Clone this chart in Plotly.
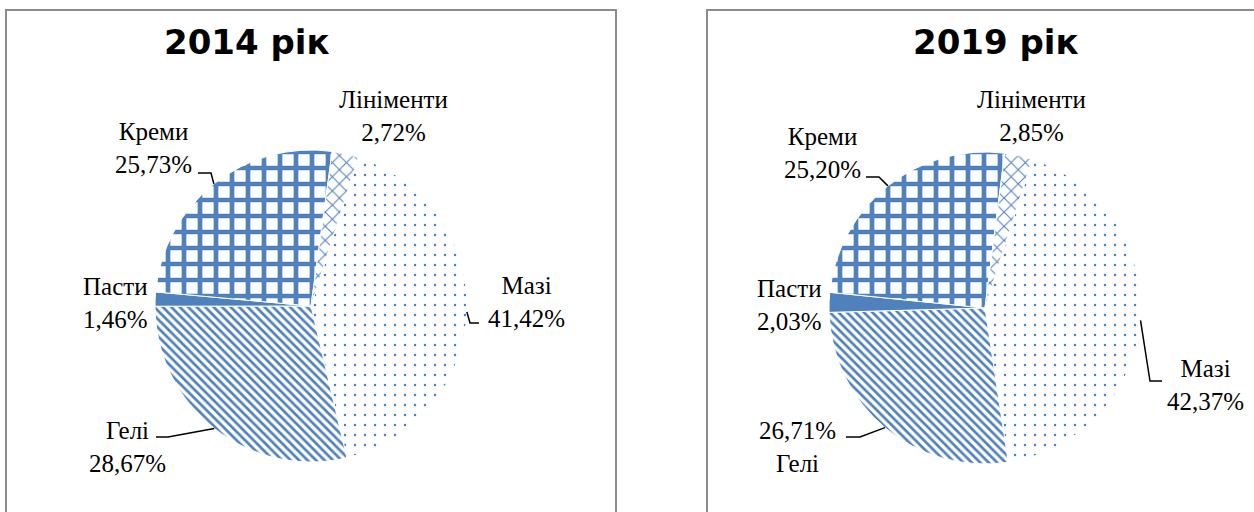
import math
import plotly.graph_objects as go

# ---------------- data ----------------
categories = ["Мазі", "Гелі", "Пасти", "Креми", "Лініменти"]
values_2014 = [41.42, 28.67, 1.46, 25.73, 2.72]
values_2019 = [42.37, 26.71, 2.03, 25.20, 2.85]
titles = ["2014 рік", "2019 рік"]

# ---------------- styles / layout ----------------
W, H = 1254, 512
BLUE = "#4F81BD"
pattern_shapes = [".", "\\", "", "+", "x"]
pattern_sizes = [10, 6, 8, 16, 10]
pattern_solidity = [0.05, 0.45, 0.5, 0.5, 0.2]
slice_colors = ["white", "white", BLUE, "white", "white"]
ROTATION = 17.6

LABEL_FONT = dict(family="Liberation Serif", size=25, color="black")
TITLE_FONT = dict(family="DejaVu Sans", size=34, color="black")

charts = [
    dict(values=values_2014, title=titles[0], title_pos=(247, 42),
         center=(311, 306), r=156, box=(6, 616),
         labels={
             "Лініменти": (393, 116, "name"),
             "Креми": (153, 148, "name"),
             "Пасти": (115, 303, "name"),
             "Мазі": (526, 302, "name"),
             "Гелі": (127, 447, "name"),
         },
         leaders={
             "Креми": [(211, 173), (198, 173)],
             "Гелі": [(168, 437), (156, 437)],
             "Мазі": [(470, 323), (479, 323)],
         }),
    dict(values=values_2019, title=titles[1], title_pos=(996, 42),
         center=(985, 308), r=156, box=(707, 1272),
         labels={
             "Лініменти": (1031, 116, "name"),
             "Креми": (822, 153, "name"),
             "Пасти": (789, 305, "name"),
             "Мазі": (1205, 385, "name"),
             "Гелі": (797, 447, "pct"),
         },
         leaders={
             "Креми": [(879, 177), (866, 177)],
             "Гелі": [(860, 437), (846, 437)],
             "Мазі": [(1150, 381), (1162, 381)],
         }),
]


def px(x):
    return x / W


def py(y):
    return 1 - y / H


def pct(v):
    return f"{v:.2f}".replace(".", ",") + "%"


def mid_angle(values, idx, rotation):
    total = sum(values)
    start = rotation + 360.0 * sum(values[:idx]) / total
    return start + 180.0 * values[idx] / total


fig = go.Figure()
annotations = []
shapes = []

for ch in charts:
    cx, cy = ch["center"]
    r = ch["r"]
    vals = ch["values"]
    fig.add_trace(go.Pie(
        labels=categories, values=vals, sort=False, direction="clockwise",
        rotation=ROTATION, textinfo="none", showlegend=False,
        hoverinfo="label+value",
        domain=dict(x=[px(cx - r), px(cx + r)], y=[py(cy + r), py(cy - r)]),
        marker=dict(
            colors=slice_colors,
            line=dict(color="white", width=1),
            pattern=dict(shape=pattern_shapes, size=pattern_sizes,
                         solidity=pattern_solidity, fgcolor=BLUE,
                         bgcolor="white", fillmode="replace"),
        ),
    ))
    # box
    x0, x1 = ch["box"]
    shapes.append(dict(type="rect", xref="paper", yref="paper",
                       x0=px(x0), x1=px(x1), y0=py(530), y1=py(10),
                       line=dict(color="#8C8C8C", width=2),
                       fillcolor="rgba(0,0,0,0)", layer="below"))
    # title
    tx, ty = ch["title_pos"]
    annotations.append(dict(text="<b>" + ch["title"] + "</b>", x=px(tx), y=py(ty),
                            xref="paper", yref="paper", showarrow=False,
                            xanchor="center", yanchor="middle", font=TITLE_FONT))
    # labels
    for i, cat in enumerate(categories):
        lx, ly, order = ch["labels"][cat]
        txt = (cat + "<br>" + pct(vals[i])) if order == "name" else (pct(vals[i]) + "<br>" + cat)
        annotations.append(dict(text=txt, x=px(lx), y=py(ly), xref="paper", yref="paper",
                                showarrow=False, xanchor="center", yanchor="middle",
                                align="center", font=LABEL_FONT))
        if cat in ch["leaders"]:
            a = math.radians(mid_angle(vals, i, ROTATION))
            ex, ey = cx + r * math.sin(a), cy - r * math.cos(a)
            pts = [(ex, ey)] + ch["leaders"][cat]
            path = "M " + " L ".join(f"{px(x):.5f},{py(y):.5f}" for x, y in pts)
            shapes.append(dict(type="path", xref="paper", yref="paper", path=path,
                               line=dict(color="black", width=1.5)))

fig.update_layout(
    width=W, height=H, autosize=False,
    margin=dict(l=0, r=0, t=0, b=0),
    paper_bgcolor="white", plot_bgcolor="white",
    annotations=annotations, shapes=shapes,
)

fig.write_html("out.html", config={"displayModeBar": False},
               post_script="document.body.style.margin='0';")
